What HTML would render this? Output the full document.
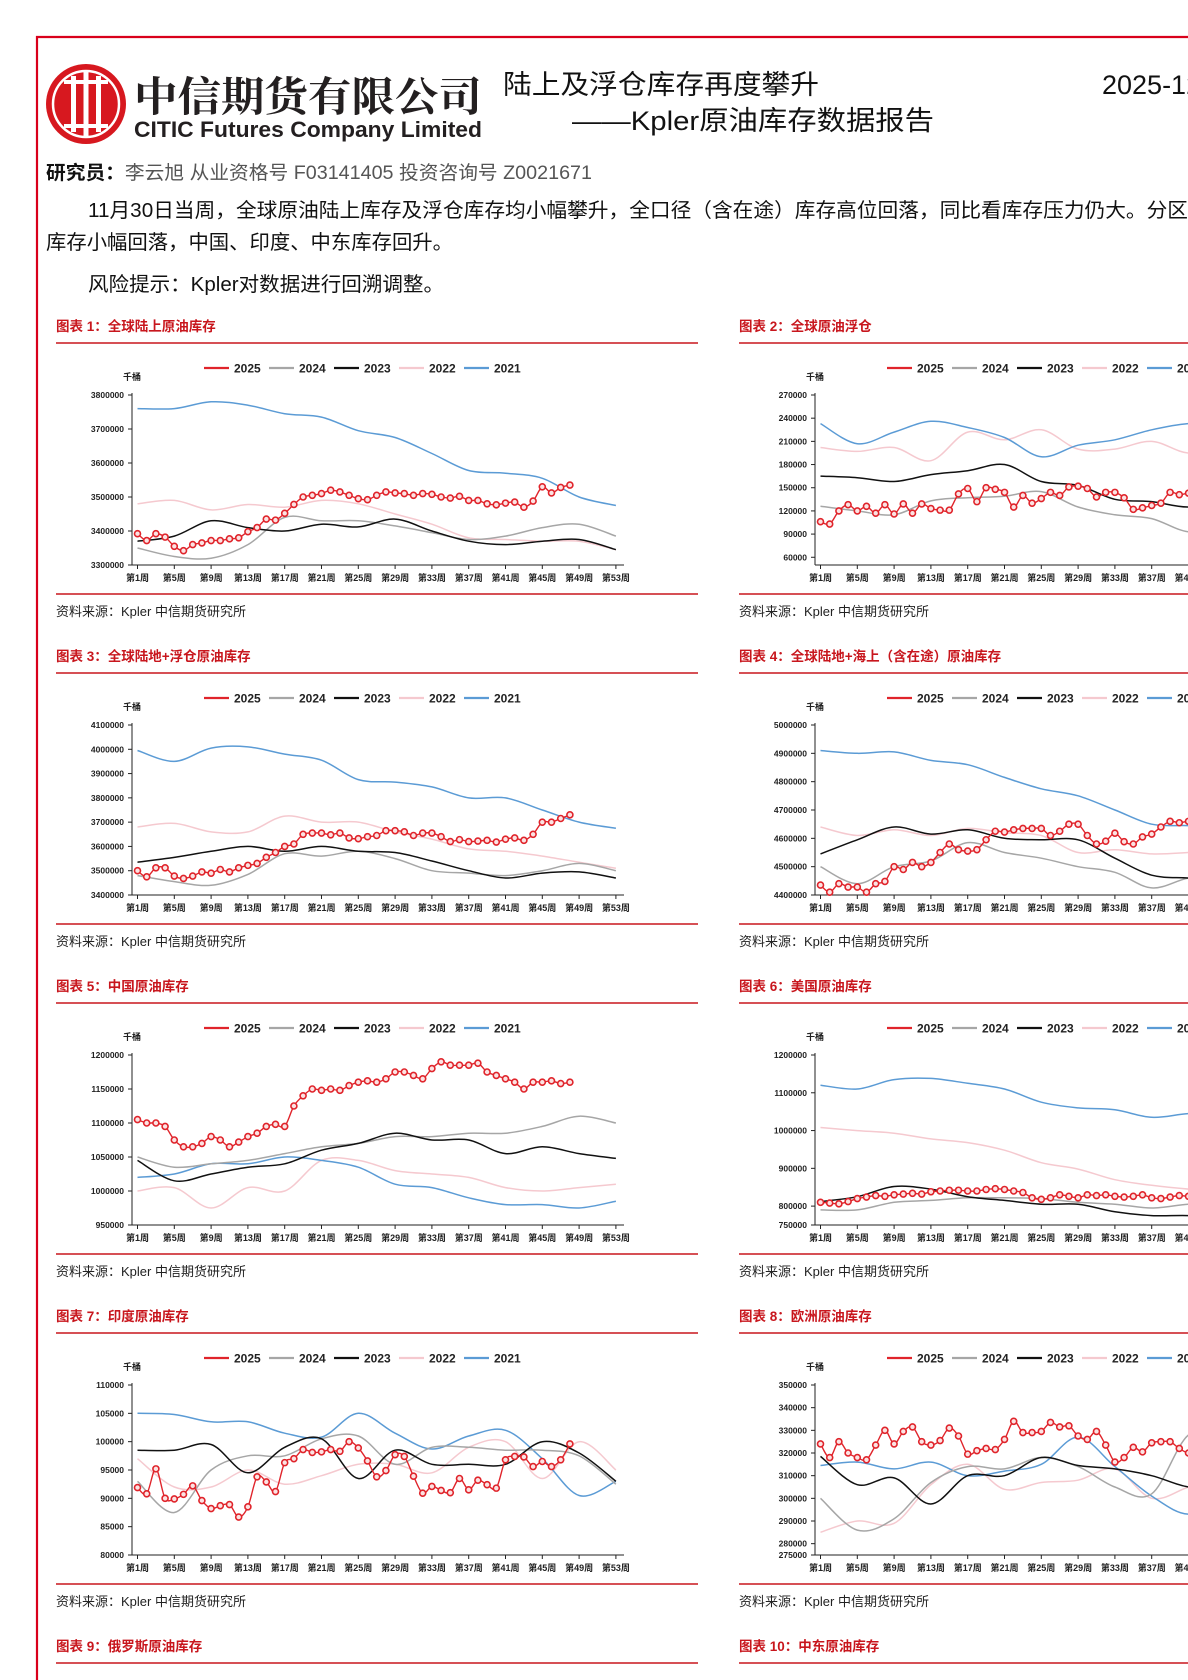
<!DOCTYPE html>
<html><head><meta charset="utf-8">
<style>
html,body{margin:0;padding:0;background:#fff;width:1188px;height:1680px;overflow:hidden}
svg{display:block}
.cj{font-family:"Liberation Sans","Noto Sans CJK SC",sans-serif}
</style></head>
<body>
<svg id="page" width="1188" height="1680" viewBox="0 0 1188 1680" xmlns="http://www.w3.org/2000/svg" class="cj">
<line x1="36" y1="37" x2="1188" y2="37" stroke="#d9001b" stroke-width="2.2"/>
<line x1="37" y1="36" x2="37" y2="1680" stroke="#d9001b" stroke-width="2.2"/>
<g>
<circle cx="86" cy="104" r="40" fill="#d7181f"/>
<circle cx="86" cy="104" r="33" fill="none" stroke="#fff" stroke-width="2.5"/>
<rect x="71" y="76" width="5" height="56" fill="#fff"/>
<rect x="83.5" y="72" width="5" height="64" fill="#fff"/>
<rect x="96" y="76" width="5" height="56" fill="#fff"/>
<rect x="64" y="80" width="44" height="4" fill="#fff"/>
<rect x="64" y="124" width="44" height="4" fill="#fff"/>
</g>
<text x="134" y="111" font-family="'Noto Serif CJK SC',serif" font-weight="bold" font-size="41" fill="#231f20" textLength="348" lengthAdjust="spacingAndGlyphs">中信期货有限公司</text>
<text x="134" y="137" font-family="'Liberation Sans',sans-serif" font-weight="bold" font-size="22" fill="#231f20" textLength="348" lengthAdjust="spacingAndGlyphs">CITIC Futures Company Limited</text>
<text x="503" y="94" font-size="27" fill="#111" textLength="316" lengthAdjust="spacingAndGlyphs">陆上及浮仓库存再度攀升</text>
<text x="572" y="130" font-size="27" fill="#111" textLength="362" lengthAdjust="spacingAndGlyphs">——Kpler原油库存数据报告</text>
<text x="1102" y="94" font-size="27" fill="#111">2025-12-02</text>
<text x="46" y="179" font-size="19" fill="#555" textLength="546" lengthAdjust="spacingAndGlyphs"><tspan font-weight="bold" fill="#111">研究员：</tspan>李云旭  从业资格号 F03141405  投资咨询号 Z0021671</text>
<text x="88" y="217" font-size="20" fill="#111" textLength="1100" lengthAdjust="spacingAndGlyphs">11月30日当周，全球原油陆上库存及浮仓库存均小幅攀升，全口径（含在途）库存高位回落，同比看库存压力仍大。分区</text>
<text x="46" y="249" font-size="20" fill="#111" textLength="407" lengthAdjust="spacingAndGlyphs">库存小幅回落，中国、印度、中东库存回升。</text>
<text x="88" y="291" font-size="20" fill="#111" textLength="356" lengthAdjust="spacingAndGlyphs">风险提示：Kpler对数据进行回溯调整。</text>
<g id="charts"></g>
</svg>
<script>
// ---- shared categories ----
const bgWeeks = [1,5,9,13,17,21,25,29,33,37,41,45,49,53];
const weeks2025 = [1,2,3,4,5,6,7,8,9,10,11,12,13,14,15,16,17,18,19,20,21,22,23,24,25,26,27,28,29,30,31,32,33,34,35,36,37,38,39,40,41,42,43,44,45,46,47,48];
const xTickWeeks = [1,5,9,13,17,21,25,29,33,37,41,45,49,53];
const seriesYears = ["2025","2024","2023","2022","2021"];

// ---- chart 1: global onshore (thousand of 千桶) ----
const c1Ticks = [3300,3400,3500,3600,3700,3800];
const c1TickLabels = ["3300000","3400000","3500000","3600000","3700000","3800000"];
const c1_2021 = [3760,3760,3780,3770,3745,3735,3695,3675,3628,3578,3570,3555,3500,3475];
const c1_2022 = [3480,3490,3462,3478,3470,3490,3480,3450,3420,3380,3375,3370,3370,3345];
const c1_2023 = [3370,3385,3430,3410,3400,3420,3412,3435,3400,3370,3360,3370,3375,3345];
const c1_2024 = [3350,3325,3320,3360,3440,3430,3430,3415,3395,3375,3385,3410,3420,3385];
const c1_2025 = [3392,3372,3392,3382,3355,3342,3360,3365,3372,3372,3377,3380,3398,3410,3435,3432,3452,3478,3500,3505,3510,3520,3515,3505,3495,3492,3505,3515,3512,3510,3505,3510,3508,3500,3497,3502,3490,3490,3480,3477,3482,3485,3470,3488,3530,3512,3528,3535];

// ---- chart 2: floating storage ----
const c2Ticks = [60,90,120,150,180,210,240,270];
const c2TickLabels = ["60000","90000","120000","150000","180000","210000","240000","270000"];
const c2_2021 = [233,207,222,236,228,215,190,205,212,225,233,232,230,228];
const c2_2022 = [202,197,202,185,222,212,225,200,200,210,195,205,200,198];
const c2_2023 = [165,163,158,167,172,180,158,153,135,132,125,135,130,128];
const c2_2024 = [126,120,115,133,137,139,145,125,115,110,93,100,98,100];
const c2_2025 = [106,103,120,128,120,126,117,128,116,129,117,129,123,121,121,142,149,132,150,148,144,125,140,130,136,144,140,151,152,149,138,144,144,137,122,124,127,130,144,141,143,144,145,140,142,148,146,150];

// ---- chart 3: onshore + floating ----
const c3Ticks = [3400,3500,3600,3700,3800,3900,4000,4100];
const c3TickLabels = ["3400000","3500000","3600000","3700000","3800000","3900000","4000000","4100000"];
const c3_2021 = [3995,3950,4005,4010,3980,3955,3875,3865,3845,3800,3800,3750,3700,3675];
const c3_2022 = [3680,3695,3660,3660,3725,3700,3700,3660,3630,3590,3580,3560,3535,3510];
const c3_2023 = [3535,3555,3580,3600,3580,3600,3580,3575,3540,3500,3470,3490,3495,3470];
const c3_2024 = [3480,3455,3440,3485,3570,3560,3580,3550,3500,3490,3480,3500,3530,3500];
const c3_2025 = [3500,3475,3512,3512,3478,3468,3478,3495,3490,3505,3495,3512,3522,3530,3555,3575,3600,3610,3650,3655,3655,3648,3655,3635,3632,3640,3645,3665,3665,3660,3645,3655,3655,3640,3620,3628,3620,3622,3625,3618,3630,3635,3625,3650,3700,3700,3715,3730];

// ---- chart 4: onshore + at sea ----
const c4Ticks = [4400,4500,4600,4700,4800,4900,5000];
const c4TickLabels = ["4400000","4500000","4600000","4700000","4800000","4900000","5000000"];
const c4_2021 = [4910,4900,4905,4875,4860,4815,4775,4750,4700,4650,4645,4640,4620,4600];
const c4_2022 = [4640,4610,4630,4610,4635,4620,4610,4550,4560,4545,4550,4560,4540,4530];
const c4_2023 = [4545,4595,4640,4615,4630,4600,4595,4595,4530,4470,4460,4450,4460,4440];
const c4_2024 = [4500,4440,4500,4520,4585,4550,4530,4500,4480,4425,4460,4470,4460,4450];
const c4_2025 = [4435,4410,4440,4428,4428,4410,4440,4448,4500,4490,4515,4500,4515,4550,4580,4560,4555,4560,4595,4625,4622,4630,4635,4635,4635,4610,4625,4650,4650,4610,4580,4590,4618,4588,4580,4605,4615,4640,4660,4655,4660,4650,4655,4660,4650,4665,4660,4670];

// ---- chart 5: China ----
const c5Ticks = [950,1000,1050,1100,1150,1200];
const c5TickLabels = ["950000","1000000","1050000","1100000","1150000","1200000"];
const c5_2021 = [1020,1025,1040,1040,1050,1045,1035,1010,1005,990,980,980,975,985];
const c5_2022 = [1000,1005,975,1005,1000,1045,1045,1030,1025,1020,1005,1000,1005,1010];
const c5_2023 = [1045,1015,1025,1035,1040,1060,1070,1085,1075,1075,1055,1065,1055,1048];
const c5_2024 = [1050,1035,1040,1045,1055,1065,1070,1080,1080,1085,1085,1095,1110,1100];
const c5_2025 = [1105,1100,1100,1095,1075,1065,1065,1070,1080,1075,1065,1072,1080,1085,1095,1098,1095,1125,1140,1150,1148,1150,1148,1155,1160,1162,1160,1165,1175,1175,1170,1165,1180,1190,1185,1185,1185,1188,1175,1170,1165,1160,1150,1160,1160,1162,1158,1160];

// ---- chart 6: USA ----
const c6Ticks = [750,800,900,1000,1100,1200];
const c6TickLabels = ["750000","800000","900000","1000000","1100000","1200000"];
const c6_2021 = [1120,1110,1135,1138,1125,1110,1075,1060,1055,1035,1045,1045,1040,1035];
const c6_2022 = [1008,1000,993,978,968,948,915,898,870,855,845,840,835,830];
const c6_2023 = [812,825,852,845,825,815,805,805,785,775,775,770,770,765];
const c6_2024 = [790,790,810,815,822,822,820,810,805,795,805,808,805,800];
const c6_2025 = [810,808,806,812,820,824,828,826,830,832,834,832,838,840,842,842,840,840,844,846,844,840,836,822,818,822,830,826,822,830,828,830,826,824,826,830,822,820,824,828,826,828,826,824,828,826,828,830];

// ---- chart 7: India ----
const c7Ticks = [80,85,90,95,100,105,110];
const c7TickLabels = ["80000","85000","90000","95000","100000","105000","110000"];
const c7_2021 = [105,104.8,103.5,103.5,101.5,100.8,105,101.5,98.7,101,102,97,90.5,93];
const c7_2022 = [97,92,92,95,92.5,94,96,96,94.5,99,100,93.5,100,95];
const c7_2023 = [98.5,98.5,99.5,94.5,99,100.5,93.5,98.5,96,96,96,100,98,93];
const c7_2024 = [93,87.5,95,97.5,97.5,100.5,101,96,99,99,98.5,98.5,97.5,92.5];
const c7_2025 = [91.9,90.8,95.2,90.0,89.9,90.7,92.2,89.6,88.2,88.7,88.9,86.7,88.5,93.8,92.9,91.2,96.3,97.0,98.6,98.1,98.2,98.6,98.3,100.0,98.9,96.6,93.8,94.9,97.7,97.4,93.9,90.9,92.1,91.4,91.0,93.5,91.5,93.2,92.4,91.8,96.8,97.4,97.3,95.6,96.5,95.6,96.8,99.6];

// ---- chart 8: Europe ----
const c8Ticks = [275,280,290,300,310,320,330,340,350];
const c8TickLabels = ["275000","280000","290000","300000","310000","320000","330000","340000","350000"];
const c8_2021 = [314.5,316,313,316,310,312,315,327,314,301,293,300,305,305];
const c8_2022 = [285,290,289,306,315,304,307,308,313,300,305,310,312,310];
const c8_2023 = [318.5,306,309,297.5,310,310,318,314.5,313,310,305,305,303,300];
const c8_2024 = [300,286,291,307,314,313,318,314,305,302,328,328,325,320];
const c8_2025 = [324,318,325,320,318,317,323.5,330,324,329.5,331.5,325,323.5,325.5,331,327.5,319.5,321,322,321.5,326,334,329,329,329.5,333.5,331.5,332,327.5,326,329.5,323.5,316,318,322.5,320.5,324.5,325,325,322,320,321,320,324,325,323,326,322];

const charts = [
 {num:1,title:"全球陆上原油库存",col:0,row:0,ymin:3300,ymax:3800,ticks:c1Ticks,labels:c1TickLabels,s:[c1_2025,c1_2024,c1_2023,c1_2022,c1_2021]},
 {num:2,title:"全球原油浮仓",col:1,row:0,ymin:50,ymax:270,ticks:c2Ticks,labels:c2TickLabels,s:[c2_2025,c2_2024,c2_2023,c2_2022,c2_2021]},
 {num:3,title:"全球陆地+浮仓原油库存",col:0,row:1,ymin:3400,ymax:4100,ticks:c3Ticks,labels:c3TickLabels,s:[c3_2025,c3_2024,c3_2023,c3_2022,c3_2021]},
 {num:4,title:"全球陆地+海上（含在途）原油库存",col:1,row:1,ymin:4400,ymax:5000,ticks:c4Ticks,labels:c4TickLabels,s:[c4_2025,c4_2024,c4_2023,c4_2022,c4_2021]},
 {num:5,title:"中国原油库存",col:0,row:2,ymin:950,ymax:1200,ticks:c5Ticks,labels:c5TickLabels,s:[c5_2025,c5_2024,c5_2023,c5_2022,c5_2021]},
 {num:6,title:"美国原油库存",col:1,row:2,ymin:750,ymax:1200,ticks:c6Ticks,labels:c6TickLabels,s:[c6_2025,c6_2024,c6_2023,c6_2022,c6_2021]},
 {num:7,title:"印度原油库存",col:0,row:3,ymin:80,ymax:110,ticks:c7Ticks,labels:c7TickLabels,s:[c7_2025,c7_2024,c7_2023,c7_2022,c7_2021]},
 {num:8,title:"欧洲原油库存",col:1,row:3,ymin:275,ymax:350,ticks:c8Ticks,labels:c8TickLabels,s:[c8_2025,c8_2024,c8_2023,c8_2022,c8_2021]}
];
const extraTitles = [{num:9,title:"俄罗斯原油库存",col:0,row:4},{num:10,title:"中东原油库存",col:1,row:4}];

const NS="http://www.w3.org/2000/svg";
const root=document.getElementById('charts');
const colors=["#e0242b","#a6a6a6","#111111","#f5c9cf","#5b9bd5"];
function mk(tag,attrs,parent){const e=document.createElementNS(NS,tag);for(const k in attrs)e.setAttribute(k,attrs[k]);(parent||root).appendChild(e);return e;}
function smooth(pts){
  let d="M"+pts[0][0].toFixed(1)+","+pts[0][1].toFixed(1);
  for(let i=0;i<pts.length-1;i++){
    const p0=pts[i-1]||pts[i],p1=pts[i],p2=pts[i+1],p3=pts[i+2]||p2;
    const c1=[p1[0]+(p2[0]-p0[0])/6,p1[1]+(p2[1]-p0[1])/6];
    const c2=[p2[0]-(p3[0]-p1[0])/6,p2[1]-(p3[1]-p1[1])/6];
    d+=" C"+c1[0].toFixed(1)+","+c1[1].toFixed(1)+" "+c2[0].toFixed(1)+","+c2[1].toFixed(1)+" "+p2[0].toFixed(1)+","+p2[1].toFixed(1);
  }
  return d;
}
function section(num,title,col,row){
  const X=col*683, B=row*330;
  const g=mk('g',{});
  
  
  const t=mk('text',{x:56+X,y:331+B,'font-size':13.5,'font-weight':'bold',fill:'#c8161d'},g);
  t.textContent="图表 "+num+"："+title;
  
  
  const u=mk('line',{x1:56+X,y1:343+B,x2:698+X,y2:343+B,stroke:'#c8161d','stroke-width':1.6},g);
  
  
  return g;
}
charts.forEach(c=>{
  const g=section(c.num,c.title,c.col,c.row);
  const X=c.col*683, B=c.row*330;
  const ax=132+X, top=395+B, bot=565+B;
  const xs=w=>ax+5.5+(w-1)*9.2;
  const ys=v=>top+(c.ymax-v)/(c.ymax-c.ymin)*(bot-top);
  // legend
  seriesYears.forEach((yr,i)=>{
    const lx=204+X+i*65, ly=368+B;
    const l=mk('line',{x1:lx,y1:ly,x2:lx+25,y2:ly,stroke:colors[i],'stroke-width':2.2},g);
    
    
    const tt=mk('text',{x:lx+30,y:ly+4.5,'font-size':12,'font-weight':'bold',fill:'#222'},g);
    tt.textContent=yr;
    
    
  });
  const un=mk('text',{x:ax,y:380+B,'font-size':9,'font-weight':'bold','text-anchor':'middle',fill:'#222'},g);
  un.textContent="千桶";
  
  
  // axes
  const ya=mk('line',{x1:ax,y1:top-2,x2:ax,y2:bot,stroke:'#222','stroke-width':1},g);
  
  
  const xa=mk('line',{x1:ax,y1:bot,x2:ax+492,y2:bot,stroke:'#222','stroke-width':1},g);
  
  
  c.ticks.forEach((v,i)=>{
    const y=ys(v);
    mk('line',{x1:ax-4,y1:y,x2:ax,y2:y,stroke:'#222','stroke-width':1},g);
    const tl=mk('text',{x:ax-8,y:y+3,'font-size':8.5,'font-weight':'bold','text-anchor':'end',fill:'#222'},g);
    tl.textContent=c.labels[i];
    
    
  });
  xTickWeeks.forEach(w=>{
    const x=xs(w);
    mk('line',{x1:x,y1:bot,x2:x,y2:bot+4,stroke:'#222','stroke-width':1},g);
    const tl=mk('text',{x:x,y:581+B,'font-size':9,'font-weight':'bold','text-anchor':'middle',fill:'#222'},g);
    tl.textContent="第"+w+"周";
    
    
  });
  // series: draw order 2022,2021,2024,2023,2025
  [3,4,1,2,0].forEach(i=>{
    const vals=c.s[i];
    const wk=i===0?weeks2025:bgWeeks;
    const pts=vals.map((v,j)=>[xs(wk[j]),ys(v)]);
    const p=mk('path',{d:smooth(pts),fill:'none',stroke:colors[i],'stroke-width':i===0?1.4:1.5},g);
    
    
    if(i===0){
      pts.forEach(pt=>{
        const m=mk('circle',{cx:pt[0],cy:pt[1],r:3,fill:'#fbe3e3',stroke:'#e0242b','stroke-width':1.6},g);
        
        
      });
    }
  });
  const bl=mk('line',{x1:56+X,y1:594+B,x2:698+X,y2:594+B,stroke:'#c8161d','stroke-width':1.6},g);
  
  
  const src=mk('text',{x:56+X,y:616+B,'font-size':13,fill:'#222'},g);
  src.textContent="资料来源：Kpler 中信期货研究所";
  
  
});
extraTitles.forEach(t=>section(t.num,t.title,t.col,t.row));
</script>
</body></html>
